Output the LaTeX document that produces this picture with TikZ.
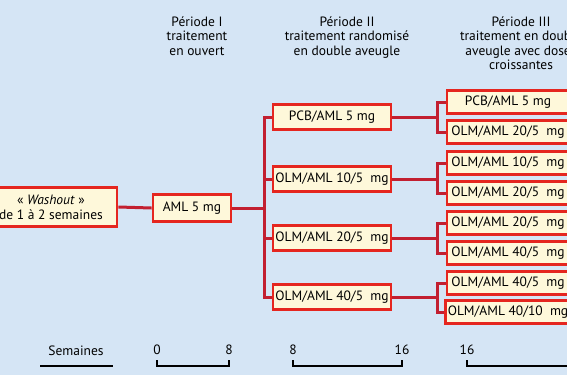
\documentclass[tikz,border=0pt]{standalone}
\usepackage{fontspec}
\setmainfont{PT Sans}
\usetikzlibrary{backgrounds}
\pgfdeclarelayer{fondlayer}
\pgfsetlayers{fondlayer,background,main}
\definecolor{fond}{HTML}{D5E5F5}
\definecolor{creme}{HTML}{FEF8DA}
\definecolor{rouge}{HTML}{E5261F}
\definecolor{lien}{HTML}{C21F30}
\begin{document}
\begin{tikzpicture}[x=1pt, y=-1pt, line join=miter,
  box/.style={draw=rouge, fill=creme, line width=2.8pt, inner sep=2pt,
    minimum height=25pt, font=\fontsize{13.5}{14}\selectfont},
  boxII/.style={box, minimum width=118pt},
  boxIII/.style={box, minimum width=122pt, minimum height=23pt},
  link/.style={draw=lien, line width=3pt},
  hdr/.style={align=center, anchor=north, font=\fontsize{13.5}{14.5}\selectfont},
  scale line/.style={line width=1.3pt},
  scale num/.style={font=\fontsize{13.5}{14}\selectfont}]
\begin{pgfonlayer}{fondlayer}
\fill[fond] (0,0) rectangle (567,375);
\end{pgfonlayer}
\useasboundingbox (0,0) rectangle (567,375);
\clip (0,0) rectangle (567,375);
% titres des periodes
\node[hdr] (hI) at (197,13) {Période I\\traitement\\en ouvert};
\node[hdr] (hII) at (347,13) {Période II\\traitement randomisé\\en double aveugle};
\node[hdr] (hIII) at (521,13) {Période III\\traitement en double\\aveugle avec doses\\croissantes};
% boites
\node[box, minimum width=132pt, minimum height=39pt, align=center,
  font=\fontsize{13.5}{15}\selectfont] (wash) at (51,207) {«~\textit{Washout}~»\\de 1 à 2 semaines};
\node[box, minimum width=78pt, minimum height=27pt] (aml) at (192,208) {AML 5 mg};
\node[boxII] (p2a) at (332,117) {PCB/AML 5 mg};
\node[boxII] (p2b) at (332,179) {OLM/AML 10/5~~mg};
\node[boxII] (p2c) at (332,238) {OLM/AML 20/5~~mg};
\node[boxII] (p2d) at (332,297) {OLM/AML 40/5~~mg};
\node[boxIII] (p3a) at (508,102) {PCB/AML 5 mg};
\node[boxIII] (p3b) at (508,132) {OLM/AML 20/5~~mg};
\node[boxIII] (p3c) at (508,163) {OLM/AML 10/5~~mg};
\node[boxIII] (p3d) at (508,193) {OLM/AML 20/5~~mg};
\node[boxIII] (p3e) at (508,223) {OLM/AML 20/5~~mg};
\node[boxIII] (p3f) at (508,253) {OLM/AML 40/5~~mg};
\node[boxIII] (p3g) at (508,283) {OLM/AML 40/5~~mg};
\node[boxIII] (p3h) at (508,312) {OLM/AML 40/10~~mg};
% liaisons
\coordinate (v2) at (264,208);
\coordinate (v3) at (437,0);
\begin{scope}[on background layer]
\draw[link] (wash.east) -- (aml.west);
\draw[link] (aml.east) -- (v2);
\foreach \n in {p2a,p2b,p2c,p2d}
  \draw[link] (v2) |- (\n.west);
\foreach \n/\a/\b in {p2a/p3a/p3b, p2b/p3c/p3d, p2c/p3e/p3f, p2d/p3g/p3h}{
  \draw[link] (\n.east) -- (\n.east -| v3) |- (\a.west);
  \draw[link] (\n.east -| v3) |- (\b.west);
}
\end{scope}
% echelle des semaines
\node[scale num] (sem) at (76,351) {Semaines};
\draw[scale line] (40,366) -- (113,366);
\foreach \xa/\xb/\la/\lb in {157/229/0/8, 293/402/8/16, 467/576/16/24}{
  \draw[scale line] (\xa,360) -- (\xa,366) -- (\xb,366) -- (\xb,360);
  \node[scale num] at (\xa,350) {\la};
  \node[scale num] at (\xb,350) {\lb};
}
\end{tikzpicture}
\end{document}
